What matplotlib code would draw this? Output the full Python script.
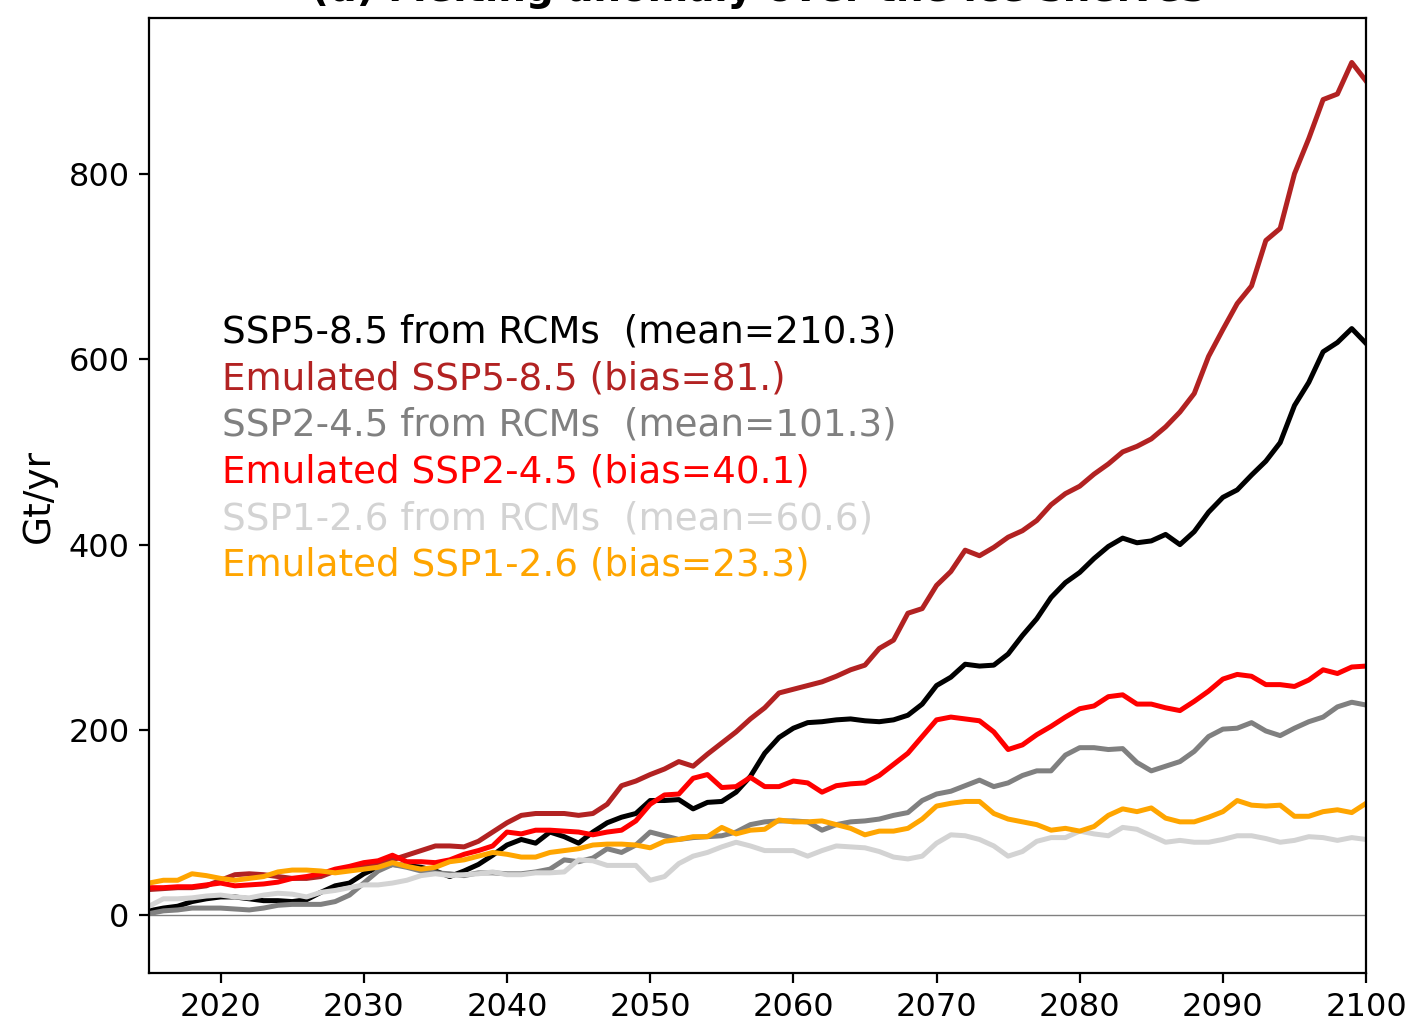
import numpy as np
import matplotlib
matplotlib.use("Agg")
import matplotlib.pyplot as plt

# years 2015..2100
years = np.arange(2015, 2101)

# SSP5-8.5 from RCMs
ssp585_rcm = [5, 8, 10, 15, 18, 20, 20, 18, 16, 16,
              15, 17, 25, 32, 35, 45, 52, 55, 54, 52,
              48, 42, 48, 55, 65, 76, 82, 78, 90, 85,
              78, 90, 100, 106, 110, 124, 124, 125, 115, 122,
              123, 133, 150, 175, 192, 202, 208, 209, 211, 212,
              210, 209, 211, 216, 228, 248, 257, 271, 269, 270,
              282, 302, 320, 343, 359, 370, 385, 398, 407, 402,
              404, 411, 400, 414, 435, 451, 459, 475, 490, 510,
              550, 575, 608, 618, 633, 617]
# Emulated SSP5-8.5
ssp585_emu = [28, 29, 30, 30, 32, 38, 44, 45, 44, 42,
              40, 40, 42, 48, 50, 52, 56, 60, 65, 70,
              75, 75, 74, 80, 90, 100, 108, 110, 110, 110,
              108, 110, 120, 140, 145, 152, 158, 166, 161, 174,
              186, 198, 212, 224, 240, 244, 248, 252, 258, 265,
              270, 288, 297, 326, 331, 356, 371, 394, 388, 397,
              408, 415, 426, 443, 455, 463, 476, 487, 500, 506,
              514, 527, 543, 563, 603, 632, 660, 679, 728, 741,
              800, 838, 880, 886, 920, 900]
# SSP2-4.5 from RCMs
ssp245_rcm = [2, 5, 6, 8, 8, 8, 7, 6, 8, 11,
              12, 12, 12, 15, 22, 35, 48, 55, 52, 48,
              46, 45, 43, 46, 46, 45, 45, 47, 50, 60,
              58, 62, 72, 68, 76, 90, 86, 82, 84, 85,
              86, 90, 98, 101, 102, 102, 101, 92, 98, 101,
              102, 104, 108, 111, 124, 131, 134, 140, 146, 139,
              143, 151, 156, 156, 173, 181, 181, 179, 180, 165,
              156, 161, 166, 177, 193, 201, 202, 208, 199, 194,
              202, 209, 214, 225, 230, 227]
# Emulated SSP2-4.5
ssp245_emu = [30, 30, 31, 31, 33, 35, 32, 33, 34, 36,
              40, 42, 45, 50, 53, 57, 59, 65, 58, 58,
              57, 60, 66, 70, 75, 90, 88, 92, 92, 91,
              90, 87, 90, 92, 102, 120, 130, 131, 148, 152,
              138, 139, 149, 139, 139, 145, 143, 133, 140, 142,
              143, 151, 163, 175, 193, 211, 214, 212, 210, 198,
              179, 184, 195, 204, 214, 223, 226, 236, 238, 228,
              228, 224, 221, 231, 242, 255, 260, 258, 249, 249,
              247, 254, 265, 261, 268, 269]
# SSP1-2.6 from RCMs
ssp126_rcm = [10, 18, 18, 19, 21, 22, 20, 19, 22, 24,
              23, 20, 25, 27, 30, 33, 33, 35, 38, 43,
              45, 43, 44, 45, 47, 44, 44, 46, 46, 47,
              60, 59, 54, 54, 54, 38, 42, 56, 64, 68,
              74, 79, 75, 70, 70, 70, 64, 70, 75, 74,
              73, 69, 63, 61, 64, 78, 87, 86, 82, 75,
              64, 69, 80, 84, 84, 91, 88, 86, 95, 93,
              86, 79, 81, 79, 79, 82, 86, 86, 83, 79,
              81, 85, 84, 81, 84, 82]
# Emulated SSP1-2.6
ssp126_emu = [35, 38, 38, 45, 43, 40, 38, 40, 42, 47,
              49, 49, 48, 46, 48, 50, 52, 57, 53, 50,
              52, 58, 60, 64, 68, 66, 63, 63, 68, 70,
              72, 76, 77, 77, 76, 73, 80, 82, 85, 85,
              95, 88, 92, 93, 103, 101, 101, 102, 98, 94,
              87, 91, 91, 94, 104, 118, 121, 123, 123, 110,
              104, 101, 98, 92, 94, 91, 96, 108, 115, 112,
              116, 105, 101, 101, 106, 112, 124, 119, 118, 119,
              107, 107, 112, 114, 111, 121]

series = [ssp585_rcm, ssp585_emu, ssp245_rcm, ssp245_emu, ssp126_rcm, ssp126_emu]
labels = ["SSP5-8.5 from RCMs  (mean=210.3)",
          "Emulated SSP5-8.5 (bias=81.)",
          "SSP2-4.5 from RCMs  (mean=101.3)",
          "Emulated SSP2-4.5 (bias=40.1)",
          "SSP1-2.6 from RCMs  (mean=60.6)",
          "Emulated SSP1-2.6 (bias=23.3)"]
colors = ["black", "firebrick", "grey", "red", "lightgrey", "orange"]

fig, ax = plt.subplots(figsize=(7.03, 5.135), dpi=200)
fig.subplots_adjust(left=0.106, right=0.9716, top=0.9825, bottom=0.0526)

ax.axhline(0, color="grey", lw=0.5)
for vals, lab, col in zip(series, labels, colors):
    ax.plot(years, vals, color=col, lw=1.8, label=lab)

ax.set_xlim(2015, 2100)
ax.set_ylim(-62, 968)
ax.set_yticks([0, 200, 400, 600, 800])
ax.set_xticks(np.arange(2020, 2101, 10))
ax.tick_params(labelsize=11.5)
ax.set_ylabel("Gt/yr", fontsize=13.5)
ax.set_title("(d) Melting anomaly over the ice shelves", fontsize=14, fontweight="bold")

# text-only legend, coloured like the lines
ax.legend(loc="center left", bbox_to_anchor=(0.06, 0.549), frameon=False,
          handlelength=0, handletextpad=0, borderpad=0, borderaxespad=0,
          labelspacing=0.26, fontsize=13.4, labelcolor="linecolor")

fig.savefig("out.png", dpi=200)
